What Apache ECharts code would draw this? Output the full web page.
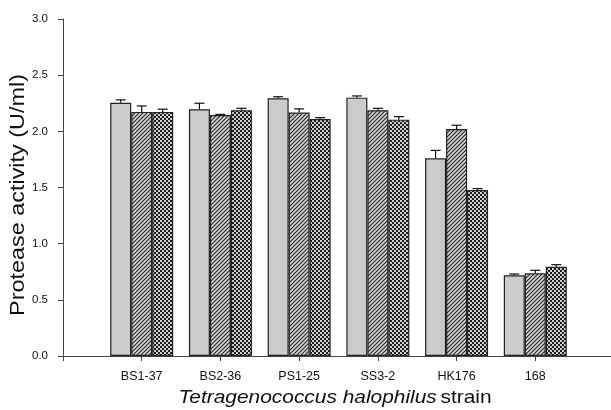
<!DOCTYPE html>
<html>
<head>
<meta charset="UTF-8">
<title>Protease activity</title>
<script src="https://cdn.jsdelivr.net/npm/echarts@6/dist/echarts.min.js"></script>
<style type="text/css">
body{ margin:0; padding:0; background:#fff; }
#chart{ width:611px; height:410px; }
</style>
</head>
<body>
<div id="chart"></div>
<script type="text/javascript">
var strains = ['BS1-37', 'BS2-36', 'PS1-25', 'SS3-2', 'HK176', '168'];
var yTicks = [0, 0.5, 1.0, 1.5, 2.0, 2.5, 3.0];

// three bars per strain (plain, hatched, cross-hatched)
var valA = [2.255, 2.197, 2.295, 2.300, 1.760, 0.718];
var valB = [2.173, 2.146, 2.167, 2.188, 2.021, 0.736];
var valC = [2.173, 2.188, 2.110, 2.104, 1.478, 0.795];
var errA = [0.025, 0.053, 0.013, 0.015, 0.070, 0.012];
var errB = [0.053, 0.005, 0.033, 0.017, 0.033, 0.027];
var errC = [0.024, 0.017, 0.012, 0.027, 0.012, 0.018];

// fill patterns
function hatchPattern() {
  var c = document.createElement('canvas');
  c.width = 4; c.height = 4;
  var g = c.getContext('2d');
  g.fillStyle = '#d6d6d6';
  g.fillRect(0, 0, 4, 4);
  g.strokeStyle = '#2a2a2a';
  g.lineWidth = 1.2;
  g.beginPath();
  g.moveTo(-1, 5); g.lineTo(5, -1);
  g.moveTo(-1, 1); g.lineTo(1, -1);
  g.moveTo(3, 5); g.lineTo(5, 3);
  g.stroke();
  return c;
}
function crossPattern() {
  var c = document.createElement('canvas');
  c.width = 4; c.height = 4;
  var g = c.getContext('2d');
  g.fillStyle = '#1c1c1c';
  g.fillRect(0, 0, 4, 4);
  g.fillStyle = '#d0d0d0';
  g.fillRect(0, 0, 2, 2);
  g.fillRect(2, 2, 2, 2);
  return c;
}

// pad with empty slot each side so the axis starts one category left of BS1-37
var cats = [''].concat(strains, ['']);
function pad(arr) { return [null].concat(arr, [null]); }

var barW = 21;
var fills = ['#cbcbcb',
  { image: hatchPattern(), repeat: 'repeat' },
  { image: crossPattern(), repeat: 'repeat' }];
var vals = [valA, valB, valC];
var errs = [errA, errB, errC];
var offs = [-barW, 0, barW];

var series = [];
for (var s = 0; s < 3; s++) {
  series.push({
    type: 'bar',
    data: pad(vals[s]),
    barWidth: barW,
    barGap: '0%',
    itemStyle: { color: fills[s], borderColor: '#222', borderWidth: 1.2 },
    silent: true,
    z: 2
  });
}
for (var s = 0; s < 3; s++) {
  (function (k) {
    var d = [];
    for (var i = 0; i < strains.length; i++) d.push([i + 1, vals[k][i], errs[k][i]]);
    series.push({
      type: 'custom',
      data: d,
      z: 3,
      silent: true,
      renderItem: function (params, api) {
        var p0 = api.coord([api.value(0), api.value(1)]);
        var p1 = api.coord([api.value(0), api.value(1) + api.value(2)]);
        var x = p0[0] + offs[k];
        var st = { stroke: '#111', lineWidth: 1.2 };
        return {
          type: 'group',
          children: [
            { type: 'line', shape: { x1: x, y1: p0[1], x2: x, y2: p1[1] }, style: st },
            { type: 'line', shape: { x1: x - 5, y1: p1[1], x2: x + 5, y2: p1[1] }, style: st }
          ]
        };
      }
    });
  })(s);
}

var myChart = echarts.init(document.getElementById('chart'));
myChart.setOption({
  animation: false,
  grid: { left: 63, top: 19, width: 551, height: 337, outerBoundsMode: 'none', containLabel: false },
  xAxis: {
    type: 'category',
    data: cats,
    boundaryGap: false,
    axisLine: { lineStyle: { color: '#444', width: 1 } },
    axisTick: { interval: 0, length: 5, lineStyle: { color: '#444' } },
    axisLabel: { color: '#111', fontFamily: 'Liberation Sans', fontSize: 12.5, margin: 14, interval: 0 },
    splitLine: { show: false }
  },
  yAxis: {
    type: 'value',
    min: yTicks[0],
    max: yTicks[yTicks.length - 1],
    interval: 0.5,
    axisLine: { show: true, lineStyle: { color: '#444', width: 1 } },
    axisTick: { show: true, length: 5, lineStyle: { color: '#444' } },
    axisLabel: { color: '#111', fontFamily: 'Liberation Sans', fontSize: 11.5, margin: 15,
      formatter: function (v) { return v.toFixed(1); } },
    splitLine: { show: false }
  },
  graphic: [
    {
      type: 'text',
      x: 19, y: 195,
      rotation: Math.PI / 2,
      scaleX: 1.2,
      style: {
        text: 'Protease activity (U/ml)',
        fontFamily: 'Liberation Sans', fontSize: 19.5, fill: '#111',
        align: 'center', verticalAlign: 'middle'
      }
    },
    {
      type: 'text',
      x: 335, y: 398,
      scaleX: 1.1,
      style: {
        text: '{i|Tetragenococcus halophilus} {n|strain}',
        align: 'center', verticalAlign: 'middle',
        rich: {
          i: { fontFamily: 'Liberation Sans', fontSize: 19, fontStyle: 'italic', fill: '#111' },
          n: { fontFamily: 'Liberation Sans', fontSize: 19, fill: '#111' }
        }
      }
    }
  ],
  series: series
});
</script>
</body>
</html>
